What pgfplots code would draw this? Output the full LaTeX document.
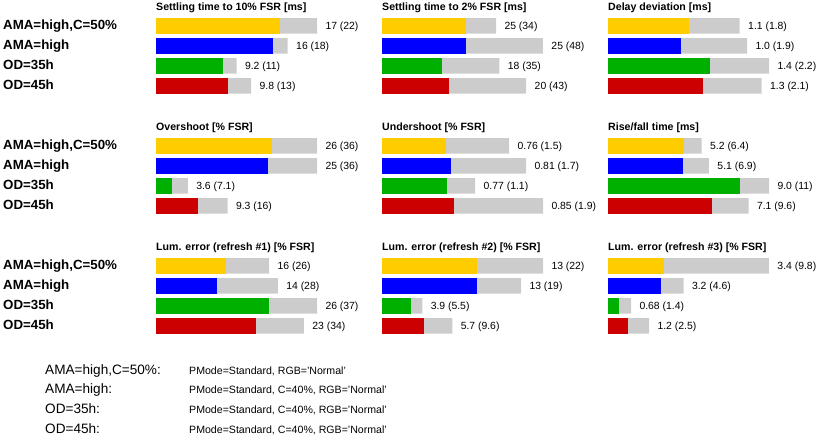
\documentclass[border=0pt]{standalone}
\usepackage{fontspec}
\setmainfont{Liberation Sans}
\usepackage{pgfplots}
\pgfplotsset{compat=1.18}
\usepackage{pgfplotstable}

\definecolor{cY}{RGB}{255,204,0}
\definecolor{cB}{RGB}{0,0,255}
\definecolor{cG}{RGB}{0,176,0}
\definecolor{cR}{RGB}{204,0,0}
\definecolor{cGrey}{RGB}{204,204,204}

\newcommand\titlefont{\fontsize{10.6}{12}\selectfont\bfseries}
\newcommand\valfont{\fontsize{10.4}{12}\selectfont}
\newcommand\rowfont{\fontsize{13.3}{16}\selectfont\bfseries}
\newcommand\legfont{\fontsize{13.6}{16}\selectfont}
\newcommand\descfont{\fontsize{10.6}{12}\selectfont}

% row: 3 = AMA=high,C=50%, 2 = AMA=high, 1 = OD=35h, 0 = OD=45h
\pgfplotstableread[col sep=comma,row sep=\\]{
row,mean,max,label\\
3,17,22,17 (22)\\
2,16,18,16 (18)\\
1,9.2,11,9.2 (11)\\
0,9.8,13,9.8 (13)\\
}\tA
\pgfplotstableread[col sep=comma,row sep=\\]{
row,mean,max,label\\
3,25,34,25 (34)\\
2,25,48,25 (48)\\
1,18,35,18 (35)\\
0,20,43,20 (43)\\
}\tB
\pgfplotstableread[col sep=comma,row sep=\\]{
row,mean,max,label\\
3,1.1,1.8,1.1 (1.8)\\
2,1.0,1.9,1.0 (1.9)\\
1,1.4,2.2,1.4 (2.2)\\
0,1.3,2.1,1.3 (2.1)\\
}\tC
\pgfplotstableread[col sep=comma,row sep=\\]{
row,mean,max,label\\
3,26,36,26 (36)\\
2,25,36,25 (36)\\
1,3.6,7.1,3.6 (7.1)\\
0,9.3,16,9.3 (16)\\
}\tD
\pgfplotstableread[col sep=comma,row sep=\\]{
row,mean,max,label\\
3,0.76,1.5,0.76 (1.5)\\
2,0.81,1.7,0.81 (1.7)\\
1,0.77,1.1,0.77 (1.1)\\
0,0.85,1.9,0.85 (1.9)\\
}\tE
\pgfplotstableread[col sep=comma,row sep=\\]{
row,mean,max,label\\
3,5.2,6.4,5.2 (6.4)\\
2,5.1,6.9,5.1 (6.9)\\
1,9.0,11,9.0 (11)\\
0,7.1,9.6,7.1 (9.6)\\
}\tF
\pgfplotstableread[col sep=comma,row sep=\\]{
row,mean,max,label\\
3,16,26,16 (26)\\
2,14,28,14 (28)\\
1,26,37,26 (37)\\
0,23,34,23 (34)\\
}\tG
\pgfplotstableread[col sep=comma,row sep=\\]{
row,mean,max,label\\
3,13,22,13 (22)\\
2,13,19,13 (19)\\
1,3.9,5.5,3.9 (5.5)\\
0,5.7,9.6,5.7 (9.6)\\
}\tH
\pgfplotstableread[col sep=comma,row sep=\\]{
row,mean,max,label\\
3,3.4,9.8,3.4 (9.8)\\
2,3.2,4.6,3.2 (4.6)\\
1,0.68,1.4,0.68 (1.4)\\
0,1.2,2.5,1.2 (2.5)\\
}\tI

\pgfplotsset{
 panel/.style={scale only axis, width=161pt, height=80pt, xmin=0,
   ymin=-0.5, ymax=3.5, hide axis, clip=false, anchor=north west},
 pbar/.style={xbar, bar shift=0pt, bar width=15.5pt, draw=none},
}

\newcommand{\panel}[5]{%
\begin{axis}[panel, at={(#1pt,-#2pt)}, xmax=#4]
\addplot[pbar, fill=cGrey, point meta=explicit symbolic, nodes near coords,
  nodes near coords style={anchor=base west, inner sep=0pt, xshift=8.3pt,
  yshift=-3.7pt, font=\valfont, text=black}]
  table[x=max, y=row, meta=label] {#5};
\addplot[pbar, fill=cY, restrict y to domain=2.5:3.5] table[x=mean, y=row] {#5};
\addplot[pbar, fill=cB, restrict y to domain=1.5:2.5] table[x=mean, y=row] {#5};
\addplot[pbar, fill=cG, restrict y to domain=0.5:1.5] table[x=mean, y=row] {#5};
\addplot[pbar, fill=cR, restrict y to domain=-0.5:0.5] table[x=mean, y=row] {#5};
\node[anchor=base west, inner sep=0pt, font=\titlefont, yshift=5.5pt]
  at (rel axis cs:0,1) {#3};
\end{axis}}

\newcommand{\rowlabels}[1]{%
\node[anchor=base west, inner sep=0pt, font=\rowfont] at (3pt,-#1pt) {AMA=high,C=50\%};
\node[anchor=base west, inner sep=0pt, font=\rowfont] at (3pt,-#1pt-20pt) {AMA=high};
\node[anchor=base west, inner sep=0pt, font=\rowfont] at (3pt,-#1pt-40pt) {OD=35h};
\node[anchor=base west, inner sep=0pt, font=\rowfont] at (3pt,-#1pt-60pt) {OD=45h};
}

\begin{document}
\begin{tikzpicture}
\path[use as bounding box] (0,0) rectangle (820pt,-438pt);

\panel{156}{16}{Settling time to 10\% FSR [ms]}{22}{\tA}
\panel{382}{16}{Settling time to 2\% FSR [ms]}{48}{\tB}
\panel{608}{16}{Delay deviation [ms]}{2.2}{\tC}
\panel{156}{136}{Overshoot [\% FSR]}{36}{\tD}
\panel{382}{136}{Undershoot [\% FSR]}{1.9}{\tE}
\panel{608}{136}{Rise/fall time [ms]}{11}{\tF}
\panel{156}{256}{Lum. error (refresh \#1) [\% FSR]}{37}{\tG}
\panel{382}{256}{Lum. error (refresh \#2) [\% FSR]}{22}{\tH}
\panel{608}{256}{Lum. error (refresh \#3) [\% FSR]}{9.8}{\tI}

\rowlabels{29.3}
\rowlabels{149.3}
\rowlabels{269.3}

\node[anchor=base west, inner sep=0pt, font=\legfont] at (45pt,-374.3pt) {AMA=high,C=50\%:};
\node[anchor=base west, inner sep=0pt, font=\legfont] at (45pt,-394pt) {AMA=high:};
\node[anchor=base west, inner sep=0pt, font=\legfont] at (45pt,-414pt) {OD=35h:};
\node[anchor=base west, inner sep=0pt, font=\legfont] at (45pt,-433.7pt) {OD=45h:};
\node[anchor=base west, inner sep=0pt, font=\descfont] at (189pt,-374.3pt) {PMode=Standard, RGB='Normal'};
\node[anchor=base west, inner sep=0pt, font=\descfont] at (189pt,-394pt) {PMode=Standard, C=40\%, RGB='Normal'};
\node[anchor=base west, inner sep=0pt, font=\descfont] at (189pt,-414pt) {PMode=Standard, C=40\%, RGB='Normal'};
\node[anchor=base west, inner sep=0pt, font=\descfont] at (189pt,-433.7pt) {PMode=Standard, C=40\%, RGB='Normal'};
\end{tikzpicture}
\end{document}
